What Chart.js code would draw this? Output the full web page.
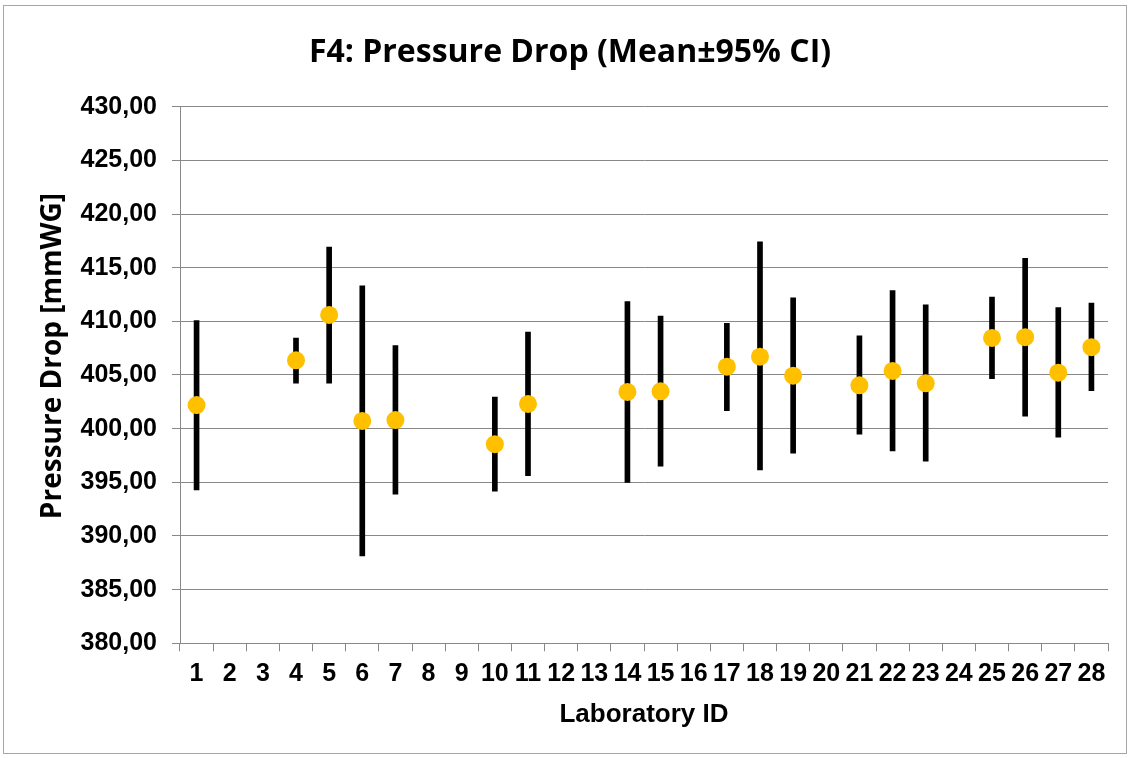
<!DOCTYPE html>
<html>
<head>
<meta charset="utf-8">
<script src="https://cdn.jsdelivr.net/npm/chart.js@4/dist/chart.umd.min.js"></script>
<style>
  body { margin: 0; background: #fff; }
  canvas { display: block; }
</style>
</head>
<body>
<canvas id="chart" width="1132" height="758"></canvas>
<script>
// Laboratory IDs on the x axis
const labs = ['1','2','3','4','5','6','7','8','9','10','11','12','13','14','15','16','17','18','19','20','21','22','23','24','25','26','27','28'];

// mean pressure drop per lab (null = no result)
const means = [402.2, null, null, 406.37, 410.6, 400.72, 400.8, null, null, 398.55, 402.3, null, null, 403.42, 403.48, null, 405.78, 406.71, 404.94, null, 404.04, 405.38, 404.23, null, 408.45, 408.52, 405.22, 407.59];

// 95% CI bounds
const lower = [394.29, null, null, 404.23, 404.23, 388.14, 393.89, null, null, 394.17, 395.62, null, null, 395.0, 396.5, null, 401.68, 396.15, 397.71, null, 399.48, 397.92, 396.96, null, 404.66, 401.16, 399.2, 403.54];
const upper = [410.07, null, null, 408.45, 416.93, 413.3, 407.74, null, null, 402.95, 409.01, null, null, 411.84, 410.5, null, 409.82, 417.4, 412.18, null, 408.64, 412.86, 411.53, null, 412.25, 415.88, 411.28, 411.69];

const yMin = 380, yMax = 430, yStep = 5;

const ciRanges = lower.map((lo, i) => (lo == null ? null : [lo, upper[i]]));

// outer frame + rotated y title
const frame = {
    id: 'frame',
    afterDraw(chart) {
        const ctx = chart.ctx;
        ctx.save();
        ctx.strokeStyle = '#a6a6a6';
        ctx.lineWidth = 1;
        ctx.strokeRect(3.5, 5.5, 1123, 748);

        ctx.translate(53, 356);
        ctx.rotate(-Math.PI / 2);
        ctx.fillStyle = '#000';
        ctx.font = 'bold 28px "Open Sans"';
        ctx.textAlign = 'center';
        ctx.textBaseline = 'middle';
        ctx.fillText('Pressure Drop [mmWG]', 0, 0);
        ctx.restore();
    }
};

const ctx = document.getElementById('chart').getContext('2d');
new Chart(ctx, {
    data: {
        labels: labs,
        datasets: [
            {
                type: 'line',
                label: 'Mean',
                data: means,
                showLine: false,
                pointRadius: 9,
                pointHoverRadius: 9,
                pointBorderWidth: 0,
                pointBackgroundColor: '#FFC000',
                backgroundColor: '#FFC000',
                order: 0
            },
            {
                type: 'bar',
                label: '95% CI',
                data: ciRanges,
                backgroundColor: '#000',
                barThickness: 5,
                order: 1
            }
        ]
    },
    options: {
        responsive: false,
        animation: false,
        devicePixelRatio: 1,
        layout: { padding: { left: 32, right: 24, top: 0, bottom: 0 } },
        plugins: {
            legend: { display: false },
            tooltip: { enabled: false },
            title: {
                display: true,
                text: 'F4: Pressure Drop (Mean\u00B195% CI)',
                color: '#000',
                font: { family: '"Open Sans"', size: 32, weight: 'bold', lineHeight: 1.2 },
                padding: { top: 34, bottom: 34.3 }
            }
        },
        scales: {
            x: {
                offset: true,
                grid: { offset: true, drawOnChartArea: false, drawTicks: true, tickLength: 8, color: '#888' },
                border: { color: '#888' },
                ticks: {
                    color: '#000',
                    padding: 8,
                    maxRotation: 0,
                    autoSkip: false,
                    font: { family: '"Liberation Sans"', size: 25, weight: 'bold' }
                },
                title: {
                    display: true,
                    text: 'Laboratory ID',
                    color: '#000',
                    font: { family: '"Liberation Sans"', size: 26, weight: 'bold', lineHeight: 1.2 },
                    padding: { top: 0, bottom: 28 }
                },
                afterFit(scale) { scale.height = 758 - 643.3; }
            },
            y: {
                min: yMin,
                max: yMax,
                grid: { color: '#888', tickLength: 8 },
                border: { color: '#888' },
                ticks: {
                    stepSize: yStep,
                    color: '#000',
                    padding: 15,
                    font: { family: '"Liberation Sans"', size: 25, weight: 'bold' },
                    callback: v => v.toFixed(2).replace('.', ',')
                },
                afterFit(scale) { scale.width = 148; }
            }
        }
    },
    plugins: [frame]
});
</script>
</body>
</html>
